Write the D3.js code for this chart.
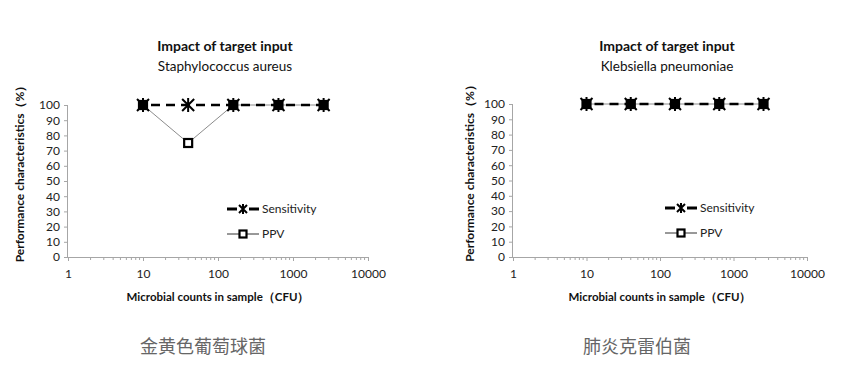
<!DOCTYPE html>
<html><head><meta charset="utf-8">
<script src="https://cdn.jsdelivr.net/npm/d3@7/dist/d3.min.js"></script>
<style>
html,body{margin:0;padding:0;background:#fff;}
svg{display:block;}
</style></head>
<body>
<svg id="chart" width="845" height="381"></svg>
<script>
// ---- data ----
const counts = [10, 40, 160, 640, 2560];
const xTickValues = [1, 10, 100, 1000, 10000];
const yTickValues = [0, 10, 20, 30, 40, 50, 60, 70, 80, 90, 100];
const seriesNames = ["Sensitivity", "PPV"];
const titles = ["Impact of target input", "Impact of target input"];
const subtitles = ["Staphylococcus aureus", "Klebsiella pneumoniae"];
const captions = ["金黄色葡萄球菌", "肺炎克雷伯菌"];
const sensitivitySA = [100, 100, 100, 100, 100];
const ppvSA = [100, 75, 100, 100, 100];
const sensitivityKP = [100, 100, 100, 100, 100];
const ppvKP = [100, 100, 100, 100, 100];
const yAxisTitle = "Performance characteristics（%）";
const xAxisTitle = "Microbial counts in sample（CFU）";

const svg = d3.select("#chart");
const FONT = "Lato, 'Open Sans', sans-serif";

const panels = [
  {x0: 68, x1: 368, y0: 257, y1: 105, title: titles[0], sub: subtitles[0], cap: captions[0], sens: sensitivitySA, ppv: ppvSA,
   legX: 227, legY: 209, ytitleX: 20, capX: 203},
  {x0: 513, x1: 807, y0: 257, y1: 104, title: titles[1], sub: subtitles[1], cap: captions[1], sens: sensitivityKP, ppv: ppvKP,
   legX: 665, legY: 208, ytitleX: 470, capX: 637}
];

function starMarker(g, cx, cy, r) {
  const d = `M${cx-r},${cy-r}L${cx+r},${cy+r}M${cx-r},${cy+r}L${cx+r},${cy-r}M${cx},${cy-r-1}L${cx},${cy+r+1}`;
  g.append("path").attr("d", d).attr("stroke", "#000").attr("stroke-width", 2).attr("fill", "none");
}
function squareMarker(g, cx, cy, s) {
  g.append("rect").attr("x", cx - s/2).attr("y", cy - s/2).attr("width", s).attr("height", s)
    .attr("fill", "#fff").attr("stroke", "#000").attr("stroke-width", 2.2);
}

panels.forEach(p => {
  const g = svg.append("g");
  const x = d3.scaleLog().domain([1, 10000]).range([p.x0, p.x1]);
  const y = d3.scaleLinear().domain([0, 100]).range([p.y0, p.y1]);

  // y axis
  const yAx = g.append("g").attr("transform", `translate(${p.x0},0)`)
    .call(d3.axisLeft(y).tickValues(yTickValues).tickSize(4).tickPadding(4));
  yAx.select(".domain").attr("stroke", "#a6a6a6").attr("d", `M-0.5,${p.y1}V${p.y0}`);
  yAx.selectAll(".tick line").attr("stroke", "#a6a6a6");
  yAx.selectAll("text").attr("font-family", FONT).attr("font-size", 12).attr("fill", "#222");

  // x axis with minor ticks
  const minor = [];
  for (let dec = 1; dec < 10000; dec *= 10) for (let k = 2; k <= 9; k++) minor.push(dec * k);
  const xAxG = g.append("g").attr("transform", `translate(0,${p.y0})`);
  xAxG.call(d3.axisBottom(x).tickValues(xTickValues).tickFormat(d3.format("d")).tickSize(4).tickPadding(8));
  xAxG.select(".domain").attr("stroke", "#a6a6a6").attr("d", `M${p.x0},0.5H${p.x1}`);
  xAxG.selectAll(".tick line").attr("stroke", "#a6a6a6");
  xAxG.selectAll("text").attr("font-family", FONT).attr("font-size", 12).attr("fill", "#222");
  xAxG.selectAll(".minor").data(minor).enter().append("line").attr("class", "minor")
    .attr("x1", d => x(d)).attr("x2", d => x(d)).attr("y1", 0).attr("y2", 3).attr("stroke", "#a6a6a6");

  // titles
  const cx = (p.x0 + p.x1) / 2 + 7;
  g.append("text").attr("x", cx).attr("y", 51).attr("text-anchor", "middle")
    .attr("font-family", FONT).attr("font-size", 14).attr("font-weight", "bold").attr("fill", "#111").text(p.title);
  g.append("text").attr("x", cx).attr("y", 71).attr("text-anchor", "middle")
    .attr("font-family", FONT).attr("font-size", 13.5).attr("fill", "#111").text(p.sub);

  // axis titles
  g.append("text").attr("transform", `translate(${p.ytitleX + 4},${(p.y0 + p.y1)/2 - 10}) rotate(-90)`)
    .attr("text-anchor", "middle").attr("font-family", FONT).attr("font-size", 12).attr("font-weight", "bold")
    .attr("fill", "#111").text(yAxisTitle);
  g.append("text").attr("x", (p.x0 + p.x1)/2).attr("y", 301).attr("text-anchor", "middle")
    .attr("font-family", FONT).attr("font-size", 11.5).attr("font-weight", "bold").attr("fill", "#111").text(xAxisTitle);

  // PPV line
  const line = d3.line().x((d, i) => x(counts[i])).y(d => y(d));
  g.append("path").datum(p.ppv).attr("d", line).attr("fill", "none").attr("stroke", "#8c8c8c").attr("stroke-width", 1);
  p.ppv.forEach((v, i) => squareMarker(g, x(counts[i]), y(v), 8));
  // Sensitivity line
  g.append("path").datum(p.sens).attr("d", line).attr("fill", "none").attr("stroke", "#000")
    .attr("stroke-width", 2.5).attr("stroke-dasharray", "9,6").attr("stroke-dashoffset", -8);
  p.sens.forEach((v, i) => {
    const over = p.ppv[i] === v;
    if (over) g.append("rect").attr("x", x(counts[i]) - 4.5).attr("y", y(v) - 4.5).attr("width", 9).attr("height", 9).attr("fill", "#000");
    starMarker(g, x(counts[i]), y(v), 6);
  });

  // legend
  const lg = g.append("g");
  const lx = p.legX, ly = p.legY;
  lg.append("line").attr("x1", lx).attr("x2", lx + 32).attr("y1", ly).attr("y2", ly)
    .attr("stroke", "#000").attr("stroke-width", 3).attr("stroke-dasharray", "10,12");
  starMarker(lg, lx + 16, ly, 4);
  lg.append("text").attr("x", lx + 35).attr("y", ly).attr("dy", "0.35em").attr("font-family", FONT)
    .attr("font-size", 12).attr("fill", "#222").text(seriesNames[0]);
  const ly2 = ly + 25;
  lg.append("line").attr("x1", lx).attr("x2", lx + 32).attr("y1", ly2).attr("y2", ly2)
    .attr("stroke", "#333").attr("stroke-width", 1);
  squareMarker(lg, lx + 16, ly2, 7);
  lg.append("text").attr("x", lx + 35).attr("y", ly2).attr("dy", "0.35em").attr("font-family", FONT)
    .attr("font-size", 12).attr("fill", "#222").text(seriesNames[1]);

  // caption
  svg.append("text").attr("x", p.capX).attr("y", 347).attr("dy", "0.35em").attr("text-anchor", "middle")
    .attr("font-family", "'Noto Sans CJK SC', sans-serif").attr("font-size", 18).attr("fill", "#666").text(p.cap);
});
</script>
</body></html>
